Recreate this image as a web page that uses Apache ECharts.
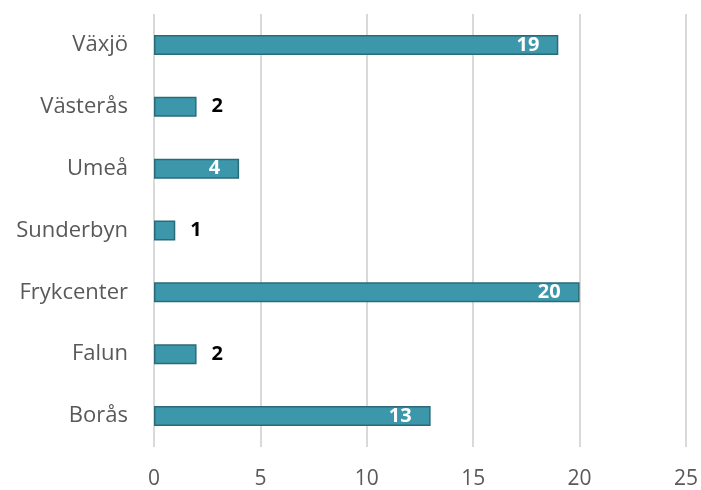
<!DOCTYPE html>
<html>
<head>
<meta charset="utf-8">
<script src="https://cdn.jsdelivr.net/npm/echarts@6/dist/echarts.min.js"></script>
<style>html,body{margin:0;padding:0;background:#fff;}#c{width:701px;height:490px;}</style>
</head>
<body>
<div id="c"></div>
<script>
const categories = ['Borås', 'Falun', 'Frykcenter', 'Sunderbyn', 'Umeå', 'Västerås', 'Växjö'];
const values = [13, 2, 20, 1, 4, 2, 19];
const xTicks = [0, 5, 10, 15, 20, 25];

const FONT = '"Open Sans", "DejaVu Sans", sans-serif';
const chart = echarts.init(document.getElementById('c'), null, {renderer: 'canvas'});

const data = values.map(v => {
  const inside = v >= 3;
  return {
    value: v,
    label: inside
      ? {position: 'insideRight', distance: 19, color: '#ffffff'}
      : {position: 'right', distance: 15, color: '#000000'}
  };
});

chart.setOption({
  animation: false,
  backgroundColor: '#ffffff',
  grid: {left: 154, right: 13, top: 14, bottom: 42, containLabel: false},
  xAxis: {
    type: 'value',
    min: xTicks[0],
    max: xTicks[xTicks.length - 1],
    interval: xTicks[1] - xTicks[0],
    axisLine: {show: false},
    axisTick: {show: false},
    splitLine: {show: true, lineStyle: {color: '#D9D9D9', width: 2}},
    axisLabel: {color: '#595959', fontFamily: FONT, fontSize: 21, margin: 22}
  },
  yAxis: {
    type: 'category',
    data: categories,
    axisLine: {show: false},
    axisTick: {show: false},
    splitLine: {show: false},
    axisLabel: {color: '#595959', fontFamily: FONT, fontSize: 22, margin: 26}
  },
  series: [{
    type: 'bar',
    data: data,
    barWidth: 20,
    itemStyle: {color: '#3D97AB', borderColor: '#2B6B79', borderWidth: 1.5},
    label: {show: true, fontFamily: FONT, fontSize: 20, fontWeight: 'bold'}
  }]
});
</script>
</body>
</html>
